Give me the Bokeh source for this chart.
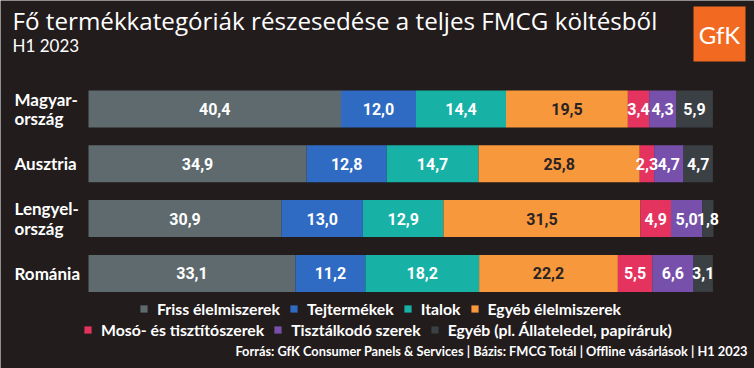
from bokeh.plotting import figure
from bokeh.models import Range1d, ColumnDataSource, Legend, LegendItem, Label, BoxAnnotation
from bokeh.core.properties import value
from bokeh.embed import file_html
from bokeh.resources import INLINE
import numpy as np

# ---------------- data ----------------
countries = ["Magyar-\nország", "Ausztria", "Lengyel-\nország", "Románia"]
categories = ["Friss élelmiszerek", "Tejtermékek", "Italok", "Egyéb élelmiszerek",
              "Mosó- és tisztítószerek", "Tisztálkodó szerek",
              "Egyéb (pl. Állateledel, papíráruk)"]
friss = [40.4, 34.9, 30.9, 33.1]
tej = [12.0, 12.8, 13.0, 11.2]
italok = [14.4, 14.7, 12.9, 18.2]
egyeb_elelm = [19.5, 25.8, 31.5, 22.2]
moso = [3.4, 2.3, 4.9, 5.5]
tisztalkodo = [4.3, 4.7, 5.0, 6.6]
egyeb = [5.9, 4.7, 1.8, 3.1]
series = [friss, tej, italok, egyeb_elelm, moso, tisztalkodo, egyeb]
colors = ["#5e6a6d", "#2f6bc3", "#17b1a6", "#f7983c", "#e5335f", "#7750ab", "#3b4045"]
label_colors = ["white", "white", "white", "#2a2323", "white", "white", "white"]

title_text = "Fő termékkategóriák részesedése a teljes FMCG költésből"
subtitle_text = "H1 2023"
source_text = ("Forrás: GfK Consumer Panels & Services | Bázis: FMCG Totál | "
               "Offline vásárlások | H1 2023")
logo_text = "GfK"

BG = "#221c1d"
W, H = 754, 368

keys = [f"s{i}" for i in range(len(series))]
rows = list(range(len(countries)))
data = {"row": rows, "country": countries}
for k, s in zip(keys, series):
    data[k] = s
src = ColumnDataSource(data)

p = figure(width=W, height=H,
           x_range=Range1d(-14.08, 106.56),
           y_range=Range1d(4.735, -1.980),
           output_backend="svg", toolbar_location=None,
           x_axis_location=None, y_axis_location=None,
           min_border=0, background_fill_color=BG, border_fill_color=BG,
           outline_line_color=None)
p.grid.visible = False

renderers = p.hbar_stack(keys, y="row", height=0.675, color=colors,
                         line_color=None, source=src)

# value labels centred in segments
arr = np.array(series, dtype=float)
lefts = np.vstack([np.zeros(arr.shape[1]), np.cumsum(arr, axis=0)[:-1]])
for i, s in enumerate(series):
    centers = lefts[i] + arr[i] / 2
    lsrc = ColumnDataSource(dict(x=centers, y=rows,
                                 t=[f"{v:.1f}".replace(".", ",") for v in s]))
    p.text(x="x", y="y", text="t", source=lsrc, text_align="center",
           text_baseline="middle", text_color=label_colors[i],
           text_font=value("Roboto"), text_font_style="bold",
           text_font_size="16px")

# country labels
p.text(x=-11.84, y="row", text="country", source=src, text_align="left",
       text_baseline="middle", text_color="white", text_font=value("Lato"),
       text_font_style="bold", text_font_size="17px", text_line_height=0.95)

# title / subtitle / source
p.add_layout(Label(x=12, y=H - 20, x_units="screen", y_units="screen",
                   text=title_text, text_color="white", text_font="Open Sans",
                   text_font_size="24.2px", text_baseline="middle"))
p.add_layout(Label(x=12, y=H - 45, x_units="screen", y_units="screen",
                   text=subtitle_text, text_color="white", text_font="Lato",
                   text_font_size="17px", text_baseline="middle"))
p.add_layout(Label(x=748, y=H - 350, x_units="screen", y_units="screen",
                   text=source_text, text_color="white", text_font="Lato",
                   text_font_style="bold", text_font_size="12.8px",
                   text_align="right", text_baseline="middle"))

# logo
p.add_layout(BoxAnnotation(left=693, right=745, top=H - 6, bottom=H - 61,
                           left_units="screen", right_units="screen",
                           top_units="screen", bottom_units="screen",
                           fill_color="#f26a22", fill_alpha=1, line_color=None))
p.add_layout(Label(x=719, y=H - 34, x_units="screen", y_units="screen",
                   text=logo_text, text_color="white", text_font="Lato",
                   text_font_size="24px", text_align="center",
                   text_baseline="middle"))

# legends
def make_legend(idx, loc):
    lg = Legend(items=[LegendItem(label=categories[i], renderers=[renderers[i]]) for i in idx],
                orientation="horizontal", location=loc,
                background_fill_alpha=0, border_line_alpha=0,
                label_text_color="white", label_text_font="Lato",
                label_text_font_style="bold", label_text_font_size="15.8px",
                glyph_width=9, glyph_height=9, label_standoff=9, spacing=9,
                padding=0, margin=0, label_height=18)
    p.add_layout(lg)

make_legend([0, 1, 2, 3], (139, 50))
make_legend([4, 5, 6], (83, 29))

open("out.html", "w").write(file_html(p, INLINE))
